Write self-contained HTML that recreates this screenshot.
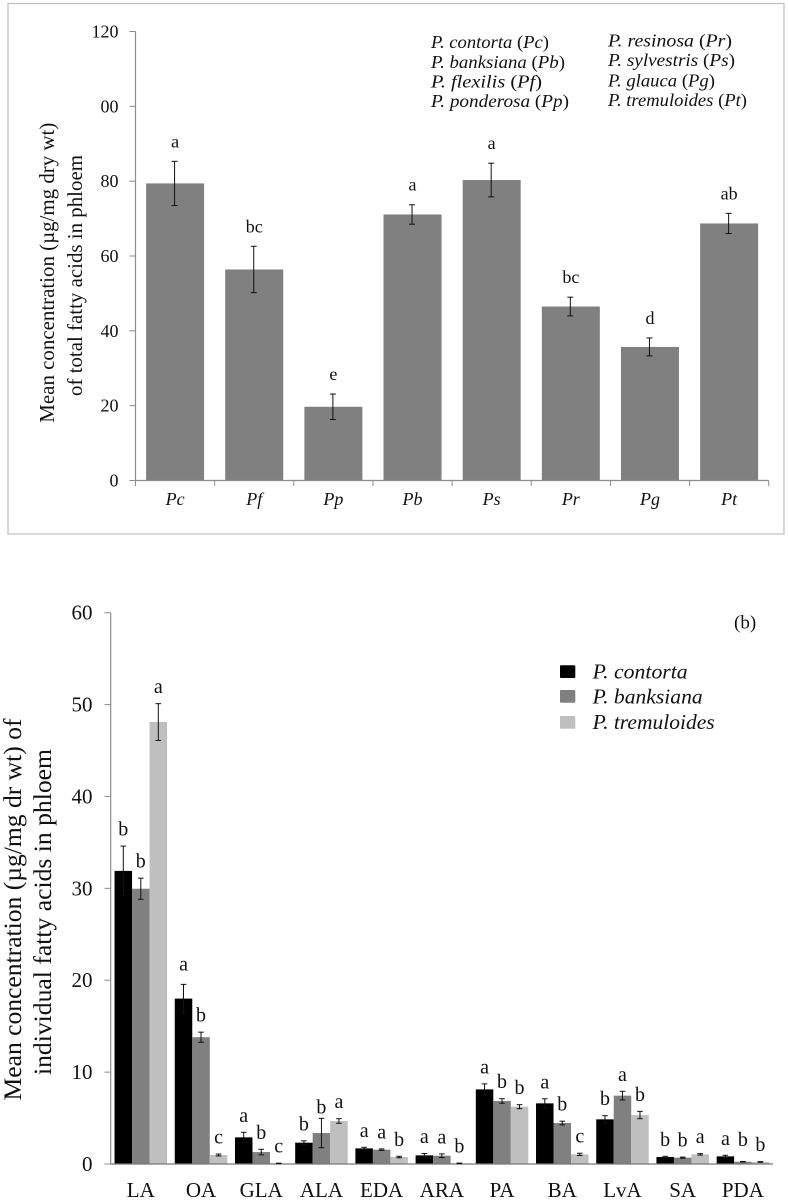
<!DOCTYPE html>
<html>
<head>
<meta charset="utf-8">
<title>Fatty acid concentrations in phloem</title>
<style>
html,body{margin:0;padding:0;background:#fff;width:788px;height:1200px;overflow:hidden}
svg{display:block;filter:blur(0.3px)}
text{font-family:"Liberation Serif",serif;fill:#111}
.it{font-style:italic}
.up{font-style:normal}
</style>
</head>
<body>
<svg id="figure" width="788" height="1200" viewBox="0 0 788 1200" xmlns="http://www.w3.org/2000/svg">
  <rect x="0" y="0" width="788" height="1200" fill="#fff"/>
  <rect x="8" y="3.5" width="776" height="530.5" fill="none" stroke="#bdbdbd" stroke-width="1.2"/>

  <g id="panel-a"></g>
  <g id="panel-b"></g>

  <g>
    <text transform="translate(54,272.7) rotate(-90)" text-anchor="middle" font-size="21" textLength="300" lengthAdjust="spacingAndGlyphs">Mean concentration (µg/mg dry wt)</text>
    <text transform="translate(82,275.5) rotate(-90)" text-anchor="middle" font-size="21" textLength="241" lengthAdjust="spacingAndGlyphs">of total fatty acids in phloem</text>
  </g>

  <g font-size="18">
    <text x="431" y="48" textLength="118" lengthAdjust="spacingAndGlyphs"><tspan class="it">P. contorta </tspan><tspan class="up">(</tspan><tspan class="it">Pc</tspan><tspan class="up">)</tspan></text>
    <text x="431" y="68" textLength="134" lengthAdjust="spacingAndGlyphs"><tspan class="it">P. banksiana </tspan><tspan class="up">(</tspan><tspan class="it">Pb</tspan><tspan class="up">)</tspan></text>
    <text x="431" y="87.5" textLength="111" lengthAdjust="spacingAndGlyphs"><tspan class="it">P. flexilis  </tspan><tspan class="up">(</tspan><tspan class="it">Pf</tspan><tspan class="up">)</tspan></text>
    <text x="431" y="107" textLength="138" lengthAdjust="spacingAndGlyphs"><tspan class="it">P. ponderosa </tspan><tspan class="up">(</tspan><tspan class="it">Pp</tspan><tspan class="up">)</tspan></text>
    <text x="608" y="46.7" textLength="124" lengthAdjust="spacingAndGlyphs"><tspan class="it">P. resinosa  </tspan><tspan class="up">(</tspan><tspan class="it">Pr</tspan><tspan class="up">)</tspan></text>
    <text x="608" y="66" textLength="127" lengthAdjust="spacingAndGlyphs"><tspan class="it">P. sylvestris </tspan><tspan class="up">(</tspan><tspan class="it">Ps</tspan><tspan class="up">)</tspan></text>
    <text x="608" y="86.7" textLength="107" lengthAdjust="spacingAndGlyphs"><tspan class="it">P. glauca </tspan><tspan class="up">(</tspan><tspan class="it">Pg</tspan><tspan class="up">)</tspan></text>
    <text x="608" y="106" textLength="139" lengthAdjust="spacingAndGlyphs"><tspan class="it">P. tremuloides </tspan><tspan class="up">(</tspan><tspan class="it">Pt</tspan><tspan class="up">)</tspan></text>
  </g>

  <g>
    <text transform="translate(21,909.5) rotate(-90)" text-anchor="middle" font-size="25" textLength="382" lengthAdjust="spacingAndGlyphs">Mean concentration (µg/mg dr wt) of</text>
    <text transform="translate(51,912) rotate(-90)" text-anchor="middle" font-size="25" textLength="326" lengthAdjust="spacingAndGlyphs">individual fatty acids in phloem</text>
  </g>

  <text x="734" y="628.3" font-size="19">(b)</text>

  <g>
    <rect x="560" y="665.3" width="15.3" height="12.7" rx="1" fill="#000"/>
    <text class="it" x="592.7" y="678.3" font-size="21" textLength="95" lengthAdjust="spacingAndGlyphs">P. contorta</text>
    <rect x="560" y="690" width="15.3" height="12.7" rx="1" fill="#808080"/>
    <text class="it" x="592.7" y="703.3" font-size="21" textLength="110" lengthAdjust="spacingAndGlyphs">P. banksiana</text>
    <rect x="560" y="716" width="15.3" height="12.7" rx="1" fill="#bfbfbf"/>
    <text class="it" x="592.7" y="729" font-size="21" textLength="122" lengthAdjust="spacingAndGlyphs">P. tremuloides</text>
  </g>
</svg>

<script>
// Panel (a) data
const speciesCodes = ['Pc', 'Pf', 'Pp', 'Pb', 'Ps', 'Pr', 'Pg', 'Pt'];
const totalMeans = [79.4, 56.4, 19.7, 71.1, 80.3, 46.5, 35.7, 68.7];
const totalErrors = [5.9, 6.2, 3.4, 2.6, 4.5, 2.5, 2.4, 2.7];
const totalLetters = ['a', 'bc', 'e', 'a', 'a', 'bc', 'd', 'ab'];
const totalTickValues = [0, 20, 40, 60, 80, 100, 120];
const totalTickLabels = ['0', '20', '40', '60', '80', '00', '120'];

// Panel (b) data
const acidNames = ['LA', 'OA', 'GLA', 'ALA', 'EDA', 'ARA', 'PA', 'BA', 'LvA', 'SA', 'PDA'];
const contortaMeans = [31.9, 18.0, 2.9, 2.32, 1.7, 0.94, 8.12, 6.6, 4.86, 0.76, 0.83];
const contortaErrors = [2.7, 1.55, 0.55, 0.2, 0.12, 0.2, 0.6, 0.5, 0.4, 0.08, 0.12];
const contortaLetters = ['b', 'a', 'a', 'b', 'a', 'a', 'a', 'a', 'b', 'b', 'a'];
const banksianaMeans = [29.96, 13.8, 1.3, 3.37, 1.56, 0.9, 6.86, 4.46, 7.44, 0.69, 0.25];
const banksianaErrors = [1.15, 0.55, 0.3, 1.6, 0.08, 0.2, 0.25, 0.2, 0.47, 0.06, 0.03];
const banksianaLetters = ['b', 'b', 'b', 'b', 'a', 'a', 'b', 'b', 'a', 'b', 'b'];
const tremuloidesMeans = [48.1, 0.98, 0.07, 4.68, 0.76, 0.07, 6.24, 1.05, 5.33, 1.05, 0.22];
const tremuloidesErrors = [2.0, 0.1, 0.02, 0.25, 0.08, 0.03, 0.22, 0.12, 0.4, 0.08, 0.04];
const tremuloidesLetters = ['a', 'c', 'c', 'a', 'b', 'b', 'b', 'c', 'b', 'a', 'b'];
const acidTickValues = [0, 10, 20, 30, 40, 50, 60];
const acidTickLabels = ['0', '10', '20', '30', '40', '50', '60'];

const SVG_NS = 'http://www.w3.org/2000/svg';

function makeSvg(tag, parent) {
  const el = document.createElementNS(SVG_NS, tag);
  parent.appendChild(el);
  return el;
}

function drawLine(parent, name, x1, y1, x2, y2, color, width) {
  const el = makeSvg('line', parent);
  
  
  el.setAttribute('x1', x1);
  el.setAttribute('y1', y1);
  el.setAttribute('x2', x2);
  el.setAttribute('y2', y2);
  el.setAttribute('stroke', color);
  el.setAttribute('stroke-width', width);
  return el;
}

function drawText(parent, name, x, y, content, size, anchor, italic) {
  const el = makeSvg('text', parent);
  
  
  el.setAttribute('x', x);
  el.setAttribute('y', y);
  el.setAttribute('font-size', size);
  el.setAttribute('text-anchor', anchor);
  if (italic) el.setAttribute('class', 'it');
  el.textContent = content;
  return el;
}

function drawBar(parent, name, x, width, top, bottom, color) {
  const el = makeSvg('rect', parent);
  
  
  el.setAttribute('x', x);
  el.setAttribute('y', top);
  el.setAttribute('width', width);
  el.setAttribute('height', Math.max(0, bottom - top));
  el.setAttribute('fill', color);
  return el;
}

function drawErrorBar(parent, name, cx, yHigh, yLow, capHalf) {
  const g = makeSvg('g', parent);
  
  
  drawLine(g, name + '-stem', cx, yHigh, cx, yLow, '#111', 1);
  drawLine(g, name + '-cap-high', cx - capHalf, yHigh, cx + capHalf, yHigh, '#111', 1);
  drawLine(g, name + '-cap-low', cx - capHalf, yLow, cx + capHalf, yLow, '#111', 1);
}

// ---------- Panel (a) ----------
(function drawPanelA() {
  const root = document.getElementById('panel-a');
  const axisLeft = 135.5, axisRight = 768.7, axisBottom = 480.5, axisTop = 31.5;
  const yMax = 120, barWidth = 58;
  const yScale = v => axisBottom - (v / yMax) * (axisBottom - axisTop);
  const band = (axisRight - axisLeft) / speciesCodes.length;
  const xCenter = i => axisLeft + band * (i + 0.5);

  speciesCodes.forEach((code, i) => {
    const cx = xCenter(i);
    drawBar(root, 'bar-' + code.toLowerCase(), cx - barWidth / 2, barWidth, yScale(totalMeans[i]), axisBottom, '#808080');
  });

  drawLine(root, 'panel-a-y-axis', axisLeft, axisTop, axisLeft, axisBottom, '#8c8c8c', 1.2);
  drawLine(root, 'panel-a-x-axis', axisLeft, axisBottom, axisRight, axisBottom, '#8c8c8c', 1.2);

  totalTickValues.forEach((v, i) => {
    drawLine(root, 'panel-a-y-tick-' + v, axisLeft - 6, yScale(v), axisLeft, yScale(v), '#8c8c8c', 1);
    drawText(root, 'panel-a-y-tick-label-' + v, 118.5, yScale(v) + 6, totalTickLabels[i], 18, 'end', false);
  });

  for (let i = 0; i <= speciesCodes.length; i++) {
    const tx = axisLeft + band * i;
    drawLine(root, 'panel-a-x-tick-' + i, tx, axisBottom, tx, axisBottom + 5.5, '#8c8c8c', 1);
  }

  speciesCodes.forEach((code, i) => {
    const cx = xCenter(i);
    const top = yScale(totalMeans[i] + totalErrors[i]);
    const low = yScale(totalMeans[i] - totalErrors[i]);
    drawErrorBar(root, 'error-bar-' + code.toLowerCase(), cx - 0.5, top, low, 3);
    drawText(root, 'significance-letter-' + code.toLowerCase(), cx, top - 14, totalLetters[i], 18, 'middle', false);
    drawText(root, 'x-label-' + code.toLowerCase(), cx, 505, code, 18, 'middle', true);
  });
})();

// ---------- Panel (b) ----------
(function drawPanelB() {
  const root = document.getElementById('panel-b');
  const axisLeft = 110.7, axisRight = 773, axisBottom = 1164, axisTop = 612.7;
  const yMax = 60, barWidth = 17.5;
  const yScale = v => axisBottom - (v / yMax) * (axisBottom - axisTop);
  const band = (axisRight - axisLeft) / acidNames.length;
  const groupCenter = i => axisLeft + band * (i + 0.5);

  const seriesNames = ['contorta', 'banksiana', 'tremuloides'];
  const seriesColors = ['#000000', '#808080', '#bfbfbf'];
  const seriesMeans = [contortaMeans, banksianaMeans, tremuloidesMeans];
  const seriesErrors = [contortaErrors, banksianaErrors, tremuloidesErrors];
  const seriesLetters = [contortaLetters, banksianaLetters, tremuloidesLetters];

  // Letters sit a fixed gap above the error bar, with a few hand-placed exceptions.
  function letterGap(acid, series) {
    if (acid === 'ALA' && series === 'banksiana') return 5;
    if (acid === 'PDA' && series === 'banksiana') return 15.5;
    if (acid === 'OA' && series === 'contorta') return 14;
    return 10.5;
  }

  acidNames.forEach((acid, i) => {
    seriesNames.forEach((series, s) => {
      const cx = groupCenter(i) + (s - 1) * barWidth;
      drawBar(root, 'bar-' + acid.toLowerCase() + '-' + series, cx - barWidth / 2, barWidth, yScale(seriesMeans[s][i]), axisBottom, seriesColors[s]);
    });
  });

  drawLine(root, 'panel-b-y-axis', axisLeft, axisTop, axisLeft, axisBottom, '#8c8c8c', 1.2);
  drawLine(root, 'panel-b-x-axis', axisLeft, axisBottom, axisRight, axisBottom, '#777777', 1.2);

  acidTickValues.forEach((v, i) => {
    drawLine(root, 'panel-b-y-tick-' + v, axisLeft - 6.2, yScale(v), axisLeft, yScale(v), '#8c8c8c', 1);
    drawText(root, 'panel-b-y-tick-label-' + v, 92.5, yScale(v) + 7, acidTickLabels[i], 21, 'end', false);
  });

  acidNames.forEach((acid, i) => {
    seriesNames.forEach((series, s) => {
      const cx = groupCenter(i) + (s - 1) * barWidth;
      const top = yScale(seriesMeans[s][i] + seriesErrors[s][i]);
      const low = yScale(seriesMeans[s][i] - seriesErrors[s][i]);
      const id = acid.toLowerCase() + '-' + series;
      drawErrorBar(root, 'error-bar-' + id, cx, top, low, 2.8);
      drawText(root, 'significance-letter-' + id, cx, top - letterGap(acid, series), seriesLetters[s][i], 20, 'middle', false);
    });
    drawText(root, 'x-label-' + acid.toLowerCase(), groupCenter(i), 1197, acid, 21, 'middle', false);
  });
})();
</script>
</body>
</html>
